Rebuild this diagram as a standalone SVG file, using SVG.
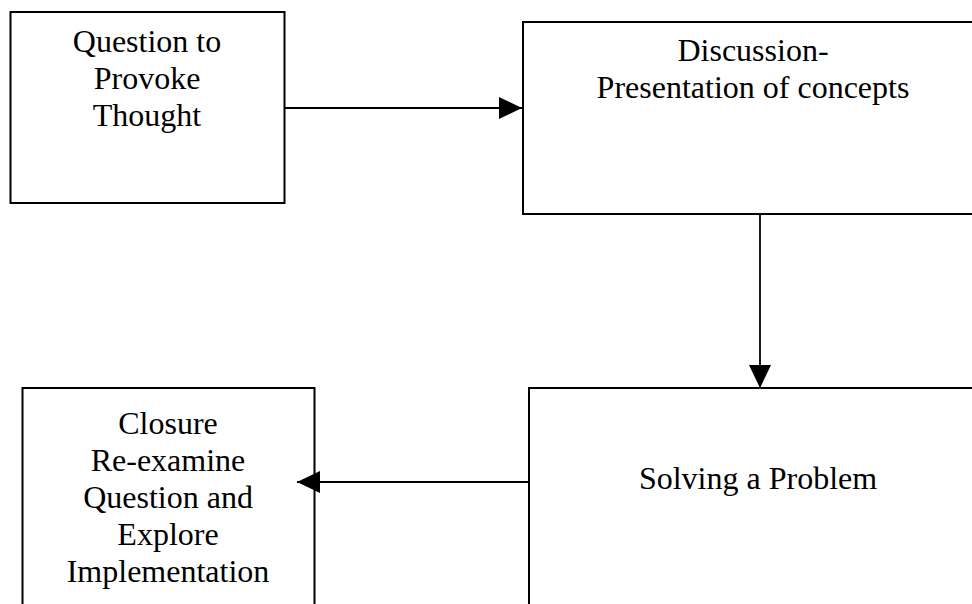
<svg xmlns="http://www.w3.org/2000/svg" width="972" height="604" viewBox="0 0 972 604">
<style>
.box{fill:#fff;stroke:#000;stroke-width:2}
.lbl{font-family:"Liberation Serif","Times New Roman",serif;font-size:32px;fill:#000;text-anchor:middle}
.conn{stroke:#000;stroke-width:1.8;fill:none}
</style>
<defs>
<marker id="ah" markerUnits="userSpaceOnUse" markerWidth="24" markerHeight="22" viewBox="0 0 24 22" refX="23" refY="11" orient="auto">
<path d="M0,0 L23,11 L0,22 Z" fill="#000"/>
</marker>
</defs>
<rect width="972" height="604" fill="#fff"/>
<g id="node-question">
<rect class="box" x="10.5" y="12" width="274" height="191"/>
<text class="lbl" x="147" y="52">Question to</text>
<text class="lbl" x="147" y="89">Provoke</text>
<text class="lbl" x="147" y="126">Thought</text>
</g>
<g id="node-discussion">
<rect class="box" x="523" y="22" width="470" height="192"/>
<text class="lbl" x="753" y="61">Discussion-</text>
<text class="lbl" x="753" y="98">Presentation of concepts</text>
</g>
<g id="node-solving">
<rect class="box" x="529" y="388" width="470" height="240"/>
<text class="lbl" x="758" y="489">Solving a Problem</text>
</g>
<g id="node-closure">
<rect class="box" x="22.5" y="388" width="292" height="240"/>
<text class="lbl" x="168" y="434">Closure</text>
<text class="lbl" x="168" y="471">Re-examine</text>
<text class="lbl" x="168" y="508">Question and</text>
<text class="lbl" x="168" y="545">Explore</text>
<text class="lbl" x="168" y="582">Implementation</text>
</g>
<g id="connectors">
<line class="conn" x1="285" y1="108" x2="522" y2="108" marker-end="url(#ah)"/>
<line class="conn" x1="760" y1="214" x2="760" y2="388" marker-end="url(#ah)"/>
<line class="conn" x1="529" y1="482" x2="297" y2="482" marker-end="url(#ah)"/>
</g>
</svg>
